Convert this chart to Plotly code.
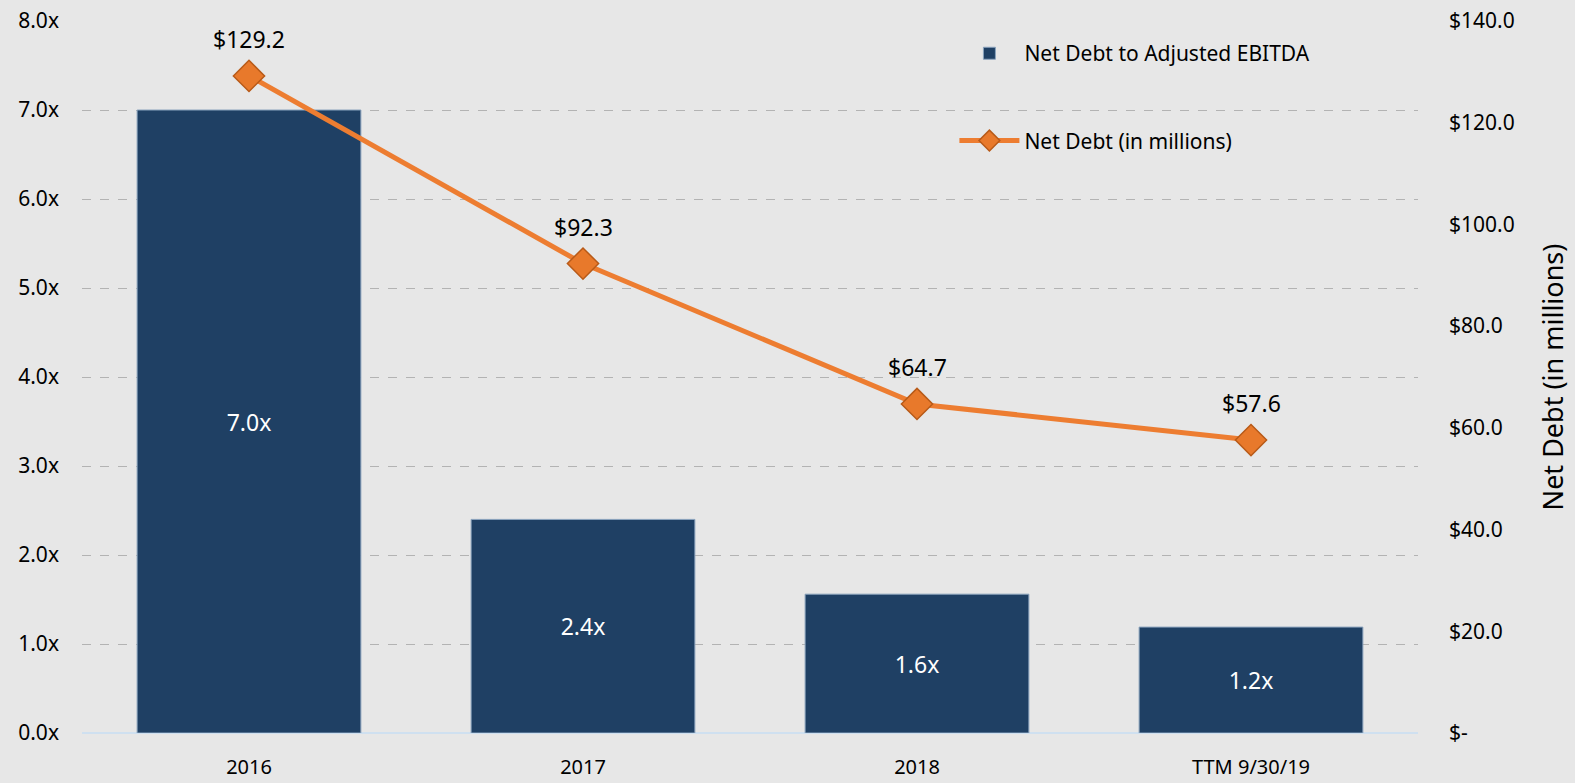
import plotly.graph_objects as go

categories = ["2016", "2017", "2018", "TTM 9/30/19"]
ratio_values = [7.0, 2.4, 1.56, 1.19]
ratio_labels = ["7.0x", "2.4x", "1.6x", "1.2x"]
net_debt = [129.2, 92.3, 64.7, 57.6]
net_debt_labels = ["$129.2", "$92.3", "$64.7", "$57.6"]
left_ticks = [0, 1, 2, 3, 4, 5, 6, 7, 8]
left_ticktext = ["0.0x", "1.0x", "2.0x", "3.0x", "4.0x", "5.0x", "6.0x", "7.0x", "8.0x"]
right_ticks = [0, 20, 40, 60, 80, 100, 120, 140]
right_ticktext = ["$-", "$20.0", "$40.0", "$60.0", "$80.0", "$100.0", "$120.0", "$140.0"]

FONT = "Noto Sans"
BG = "#e7e7e7"

fig = go.Figure()
fig.add_trace(go.Bar(
    x=categories, y=ratio_values, name="Net Debt to Adjusted EBITDA",
    marker=dict(color="#1f4064", line=dict(color="#8aa3bd", width=1)),
    text=ratio_labels, textposition="inside", insidetextanchor="middle",
    textfont=dict(color="white", size=23, family=FONT),
    width=0.67, legendgroup="a", yaxis="y",
))
fig.add_trace(go.Scatter(
    x=categories, y=net_debt, name="Net Debt (in millions)",
    mode="lines+markers",
    line=dict(color="#ed7d31", width=5),
    marker=dict(symbol="diamond", size=24, color="#e8792b", line=dict(color="#b85a18", width=1.5)),
    legendgroup="b", yaxis="y2",
))
# annotations placed by category index on the category axis
for i, (v, t) in enumerate(zip(net_debt, net_debt_labels)):
    fig.add_annotation(x=i, y=v, xref="x", yref="y2", text=t, showarrow=False,
                       yshift=37, font=dict(size=23, color="black", family=FONT))

fig.update_layout(
    width=1575, height=783,
    paper_bgcolor=BG, plot_bgcolor=BG,
    margin=dict(l=82, r=157, t=21, b=50),
    font=dict(family=FONT, color="black", size=20),
    bargap=0.33,
    xaxis=dict(type="category", categoryorder="array", categoryarray=categories,
               range=[-0.5, len(categories) - 0.5], automargin=False,
               showgrid=False, tickfont=dict(size=20), ticks="", showline=False,
               ticklabelstandoff=20),
    yaxis=dict(range=[0, 8], tickvals=left_ticks, ticktext=left_ticktext, automargin=False,
               showgrid=True, gridcolor="#b3b3b3", griddash="dash", gridwidth=1,
               zeroline=True, zerolinecolor="#cfe0f0", zerolinewidth=2,
               tickfont=dict(size=21), ticklabelstandoff=22),
    yaxis2=dict(range=[0, 140], overlaying="y", side="right", tickvals=right_ticks,
                ticktext=right_ticktext, showgrid=False, zeroline=False, automargin=False,
                tickfont=dict(size=21), ticklabelstandoff=30,
                title=dict(text="Net Debt (in millions)", font=dict(size=27), standoff=30)),
    legend=dict(x=0.653, y=0.983, xanchor="left", yanchor="top",
                bgcolor="rgba(0,0,0,0)", font=dict(size=21),
                traceorder="grouped", tracegroupgap=57, itemwidth=60),
    showlegend=True,
)

fig.write_html("out.html", config={"displayModeBar": False},
               post_script="document.body.style.margin='0';document.body.style.background='%s';" % BG)
